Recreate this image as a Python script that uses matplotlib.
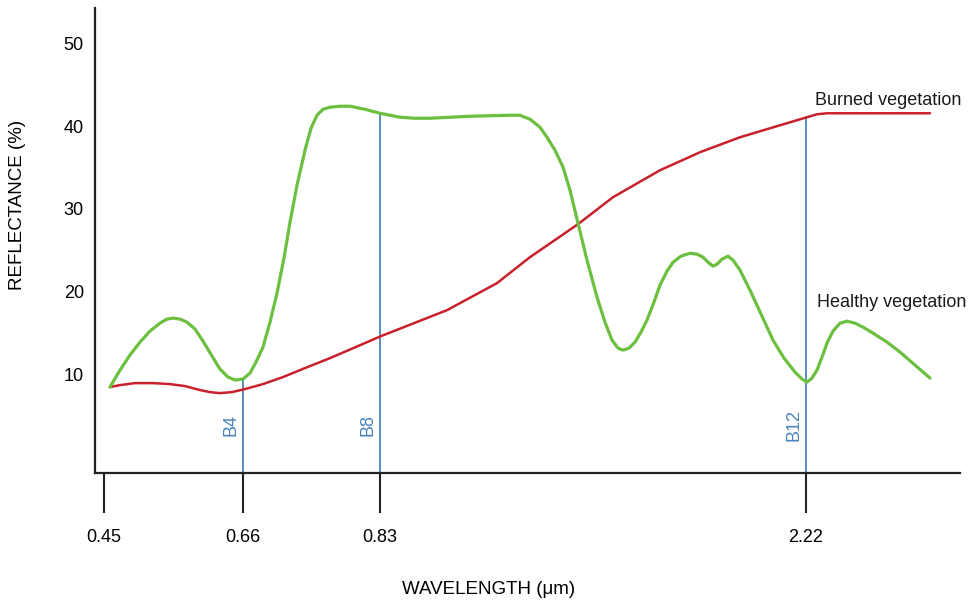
import numpy as np
import matplotlib
matplotlib.use("Agg")
import matplotlib.pyplot as plt

plt.rcParams['font.family'] = ['Liberation Sans', 'DejaVu Sans']

# x is the position along the drawn (non-linear) wavelength axis
tick_pos = [104, 243, 380, 806]
tick_labels = ['0.45', '0.66', '0.83', '2.22']

healthy_x = [110, 120, 130, 140, 150, 160, 167, 173, 180, 187, 195, 203, 212, 220, 228,
             235, 243, 250, 256, 263, 270, 277, 284, 290, 297, 305, 311, 317, 323, 330,
             340, 350, 365, 380, 390, 400, 415, 430, 470, 510, 520, 530, 540, 547, 555,
             563, 570, 578, 587, 597, 605, 612, 618, 623, 629, 635, 641, 647, 654, 660,
             667, 673, 681, 690, 697, 703, 708, 713, 717, 722, 728, 733, 740, 750, 762,
             773, 784, 795, 802, 807, 812, 817, 822, 827, 833, 840, 847, 855, 863, 873,
             887, 900, 915, 930]
healthy_y = [8.46, 10.51, 12.33, 13.90, 15.23, 16.19, 16.68, 16.80, 16.68, 16.31, 15.47,
             14.02, 12.21, 10.63, 9.67, 9.31, 9.43, 10.15, 11.48, 13.29, 16.31, 19.82,
             24.05, 28.40, 32.87, 37.10, 39.76, 41.33, 42.05, 42.30, 42.42, 42.42, 42.05,
             41.57, 41.33, 41.09, 40.97, 40.97, 41.21, 41.33, 41.33, 40.85, 39.88, 38.67,
             37.10, 35.05, 32.27, 28.28, 23.81, 19.34, 16.31, 14.14, 13.17, 12.93, 13.17,
             13.90, 15.11, 16.56, 18.73, 20.79, 22.48, 23.56, 24.29, 24.65, 24.53, 24.17,
             23.56, 23.08, 23.32, 23.93, 24.29, 23.81, 22.60, 20.18, 17.04, 14.14, 11.96,
             10.27, 9.43, 9.06, 9.55, 10.51, 12.08, 13.78, 15.23, 16.19, 16.43, 16.19,
             15.71, 14.98, 13.90, 12.69, 11.12, 9.55]

burned_x = [110, 120, 135, 153, 170, 185, 200, 210, 220, 232, 245, 263, 283, 305, 330,
            381, 447, 497, 530, 578, 613, 660, 700, 740, 780, 807, 817, 827, 870, 930]
burned_y = [8.46, 8.70, 8.94, 8.94, 8.82, 8.58, 8.10, 7.85, 7.73, 7.85, 8.22, 8.82, 9.67,
            10.76, 11.96, 14.62, 17.76, 21.03, 24.17, 28.16, 31.42, 34.68, 36.86, 38.67,
            40.12, 41.09, 41.45, 41.57, 41.57, 41.57]

bands = ['B4', 'B8', 'B12']
band_pos = [243, 380, 806]
band_top = [9.4, 41.6, 41.1]

GREEN = '#6cbf3f'
RED = '#c9212b'
BLUE = '#4a84bb'

fig = plt.figure(figsize=(9.75, 6.08), dpi=100)
ax = fig.add_axes([95 / 975, 1 - 473 / 608, 865 / 975, 465 / 608])
ax.set_xlim(95, 960)
ymin = -1.93
ax.set_ylim(ymin, 54.3)

for s in ['top', 'right']:
    ax.spines[s].set_visible(False)
for s in ['left', 'bottom']:
    ax.spines[s].set_linewidth(1.6)
    ax.spines[s].set_color('#222222')

# band lines
for name, xp, top in zip(bands, band_pos, band_top):
    ax.plot([xp, xp], [ymin, top], color=BLUE, lw=1.3, zorder=2)
    ax.text(xp - 12, 3.9, name, rotation=90, ha='center', va='center',
            color=BLUE, fontsize=13)

ax.plot(burned_x, burned_y, color=RED, lw=1.8, zorder=3, solid_capstyle='round',
        solid_joinstyle='round')
ax.plot(healthy_x, healthy_y, color=GREEN, lw=2.3, zorder=4, solid_capstyle='round',
        solid_joinstyle='round')

ax.text(815, 43.1, 'Burned vegetation', fontsize=13, ha='left', va='center',
        color='#1a1a1a', clip_on=False)
ax.text(817, 18.7, 'Healthy vegetation', fontsize=13, ha='left', va='center',
        color='#1a1a1a', clip_on=False)

ax.set_xticks(tick_pos)
ax.set_xticklabels(tick_labels)
ax.tick_params(axis='x', direction='out', length=29, width=1.5, color='#222222',
               pad=11, labelsize=13)
ax.set_yticks([10, 20, 30, 40, 50])
ax.tick_params(axis='y', length=0, pad=8, labelsize=13)

fig.text(18 / 975, 1 - 205 / 608, 'REFLECTANCE (%)', rotation=90, ha='center',
         va='center', fontsize=13.5)
fig.text(489 / 975, 1 - 590 / 608, 'WAVELENGTH (μm)', ha='center', va='center',
         fontsize=13.5)

fig.savefig('out.png', dpi=100)
